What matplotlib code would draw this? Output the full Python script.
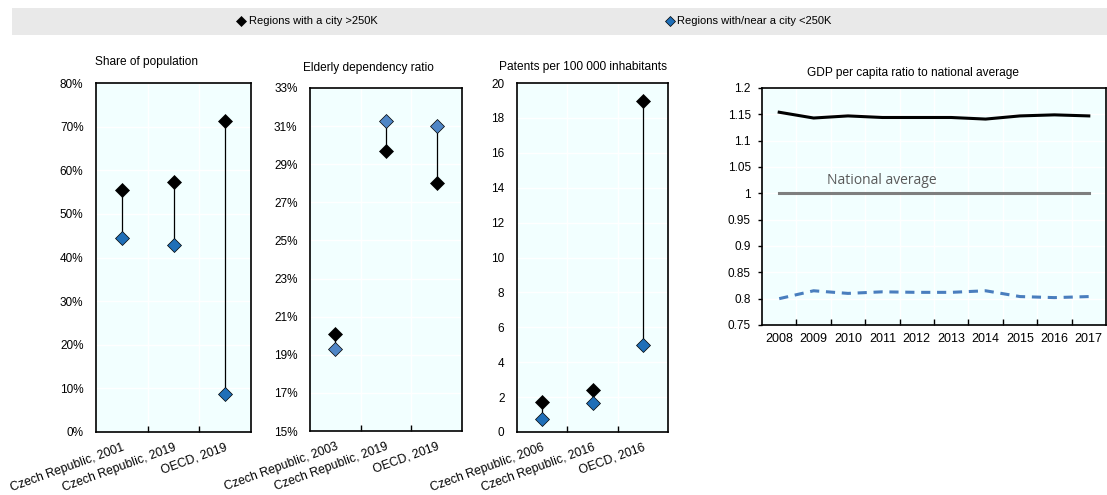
import matplotlib
matplotlib.use("Agg")
import matplotlib.pyplot as plt
from matplotlib.lines import Line2D
from matplotlib.patches import Rectangle
from matplotlib.ticker import FuncFormatter, FixedLocator

plt.rcParams['font.family'] = ['Liberation Sans', 'DejaVu Sans']
plt.rcParams['font.size'] = 8

# --- data ---
pop_cats = ['Czech Republic, 2001', 'Czech Republic, 2019', 'OECD, 2019']
pop_large = [55.5, 57.2, 71.3]
pop_small = [44.5, 42.8, 8.8]

eld_cats = ['Czech Republic, 2003', 'Czech Republic, 2019', 'OECD, 2019']
eld_large = [20.1, 29.7, 28.0]
eld_small = [19.3, 31.25, 31.0]

pat_cats = ['Czech Republic, 2006', 'Czech Republic, 2016', 'OECD, 2016']
pat_large = [1.72, 2.39, 18.95]
pat_small = [0.73, 1.67, 4.98]

years = [2008, 2009, 2010, 2011, 2012, 2013, 2014, 2015, 2016, 2017]
gdp_large = [1.154, 1.143, 1.147, 1.144, 1.144, 1.144, 1.141, 1.147, 1.149, 1.147]
gdp_small = [0.800, 0.815, 0.810, 0.813, 0.812, 0.812, 0.815, 0.804, 0.802, 0.804]
gdp_national = [1.0] * len(years)

label_large = 'Regions with a city >250K'
label_small = 'Regions with/near a city <250K'

face = '#f2ffff'
blue = '#1f6fb8'
blue_light = '#4f86c6'
blue_line = '#4a7ebe'

fig = plt.figure(figsize=(11.07, 4.95), dpi=100)


def dot_panel(rect, cats, large, small, ylim, yticks, fmt, title, title_xy, small_color):
    ax = fig.add_axes(rect)
    ax.set_facecolor(face)
    pos = [i + 0.5 for i in range(len(cats))]
    ax.vlines(pos, small, large, color='black', linewidth=0.9, zorder=3)
    ax.plot(pos, large, 'D', color='black', markersize=7.5, markeredgecolor='black',
            markeredgewidth=0.5, zorder=4)
    ax.plot(pos, small, 'D', color=small_color, markersize=7.5, markeredgecolor='black',
            markeredgewidth=0.5, zorder=4)
    ax.set_xlim(0, len(cats))
    ax.set_ylim(*ylim)
    ax.set_yticks(yticks)
    ax.yaxis.set_major_formatter(FuncFormatter(fmt))
    ax.xaxis.set_major_locator(FixedLocator(list(range(1, len(cats)))))
    ax.xaxis.set_minor_locator(FixedLocator(pos))
    ax.set_xticklabels([], minor=False)
    ax.set_xticklabels(cats, minor=True, rotation=20, ha='right', rotation_mode='anchor',
                       fontsize=8.8)
    ax.tick_params(axis='x', which='major', direction='in', length=4, width=1)
    ax.tick_params(axis='x', which='minor', length=0, pad=7)
    ax.tick_params(axis='y', length=0, pad=9, labelsize=8.5)
    ax.grid(True, which='major', color='white', linewidth=1)
    ax.set_axisbelow(True)
    for s in ax.spines.values():
        s.set_linewidth(1.2)
    fig.text(title_xy[0], title_xy[1], title, ha='left', va='center', fontsize=8.6)
    return ax


H = 495.0
W = 1107.0

dot_panel([96 / W, 1 - 432 / H, 155 / W, 349 / H], pop_cats, pop_large, pop_small,
          (0, 80), range(0, 81, 10), lambda v, p: f'{v:.0f}%',
          'Share of population', (95 / W, 1 - 62 / H), blue)
dot_panel([310 / W, 1 - 431 / H, 152 / W, 343 / H], eld_cats, eld_large, eld_small,
          (15, 33), range(15, 34, 2), lambda v, p: f'{v:.0f}%',
          'Elderly dependency ratio', (303 / W, 1 - 68 / H), blue_light)
dot_panel([517 / W, 1 - 432 / H, 151 / W, 349 / H], pat_cats, pat_large, pat_small,
          (0, 20), range(0, 21, 2), lambda v, p: f'{v:.0f}',
          'Patents per 100 000 inhabitants', (499 / W, 1 - 67 / H), blue)

# GDP panel
ax = fig.add_axes([762 / W, 1 - 325 / H, 344 / W, 237 / H])
ax.set_facecolor(face)
ax.plot(years, gdp_large, color='black', linewidth=2.2, zorder=3)
ax.plot(years, gdp_national, color='#7f7f7f', linewidth=2.2, zorder=3)
ax.plot(years, gdp_small, color=blue_line, linewidth=2.2, linestyle=(0, (3, 2.2)), zorder=3)
ax.text(2009.4, 1.025, 'National average', fontsize=10, color='#595959',
        family='Open Sans', ha='left', va='center')
ax.set_xlim(years[0] - 0.5, years[-1] + 0.5)
ax.set_ylim(0.75, 1.2)
yt = [0.75 + 0.05 * i for i in range(10)]
ax.set_yticks(yt)
ax.yaxis.set_major_formatter(FuncFormatter(lambda v, p: f'{v:.2f}'.rstrip('0').rstrip('.')))
ax.xaxis.set_major_locator(FixedLocator([y + 0.5 for y in years[:-1]]))
ax.xaxis.set_minor_locator(FixedLocator(years))
ax.set_xticklabels([], minor=False)
ax.set_xticklabels([str(y) for y in years], minor=True)
ax.tick_params(axis='x', which='major', direction='in', length=4, width=1)
ax.tick_params(axis='x', which='minor', length=0, pad=6, labelsize=9)
ax.tick_params(axis='y', direction='out', length=3, width=1, pad=5, labelsize=8.5)
ax.grid(True, which='major', color='white', linewidth=1)
ax.set_axisbelow(True)
for s in ax.spines.values():
    s.set_linewidth(1.2)
fig.text(807 / W, 1 - 73 / H, 'GDP per capita ratio to national average', ha='left',
         va='center', fontsize=8.6)

# legend band
fig.patches.append(Rectangle((12 / W, 1 - 35 / H), 1 - 12 / W, 27 / H,
                             transform=fig.transFigure, facecolor='#e9e9e9',
                             edgecolor='none', zorder=0))
handles = [
    Line2D([], [], marker='D', linestyle='none', color='black', markersize=5.5,
           markeredgecolor='black', markeredgewidth=0.5, label=label_large),
    Line2D([], [], marker='D', linestyle='none', color=blue, markersize=5.5,
           markeredgecolor='black', markeredgewidth=0.5, label=label_small),
]
fig.legend(handles=handles, loc='center left', bbox_to_anchor=(238 / W, 1 - 21.5 / H),
           ncol=2, frameon=False, handlelength=0.6, handletextpad=0.35,
           columnspacing=26.0, fontsize=8, borderpad=0, borderaxespad=0)

fig.savefig('out.png', dpi=100)
